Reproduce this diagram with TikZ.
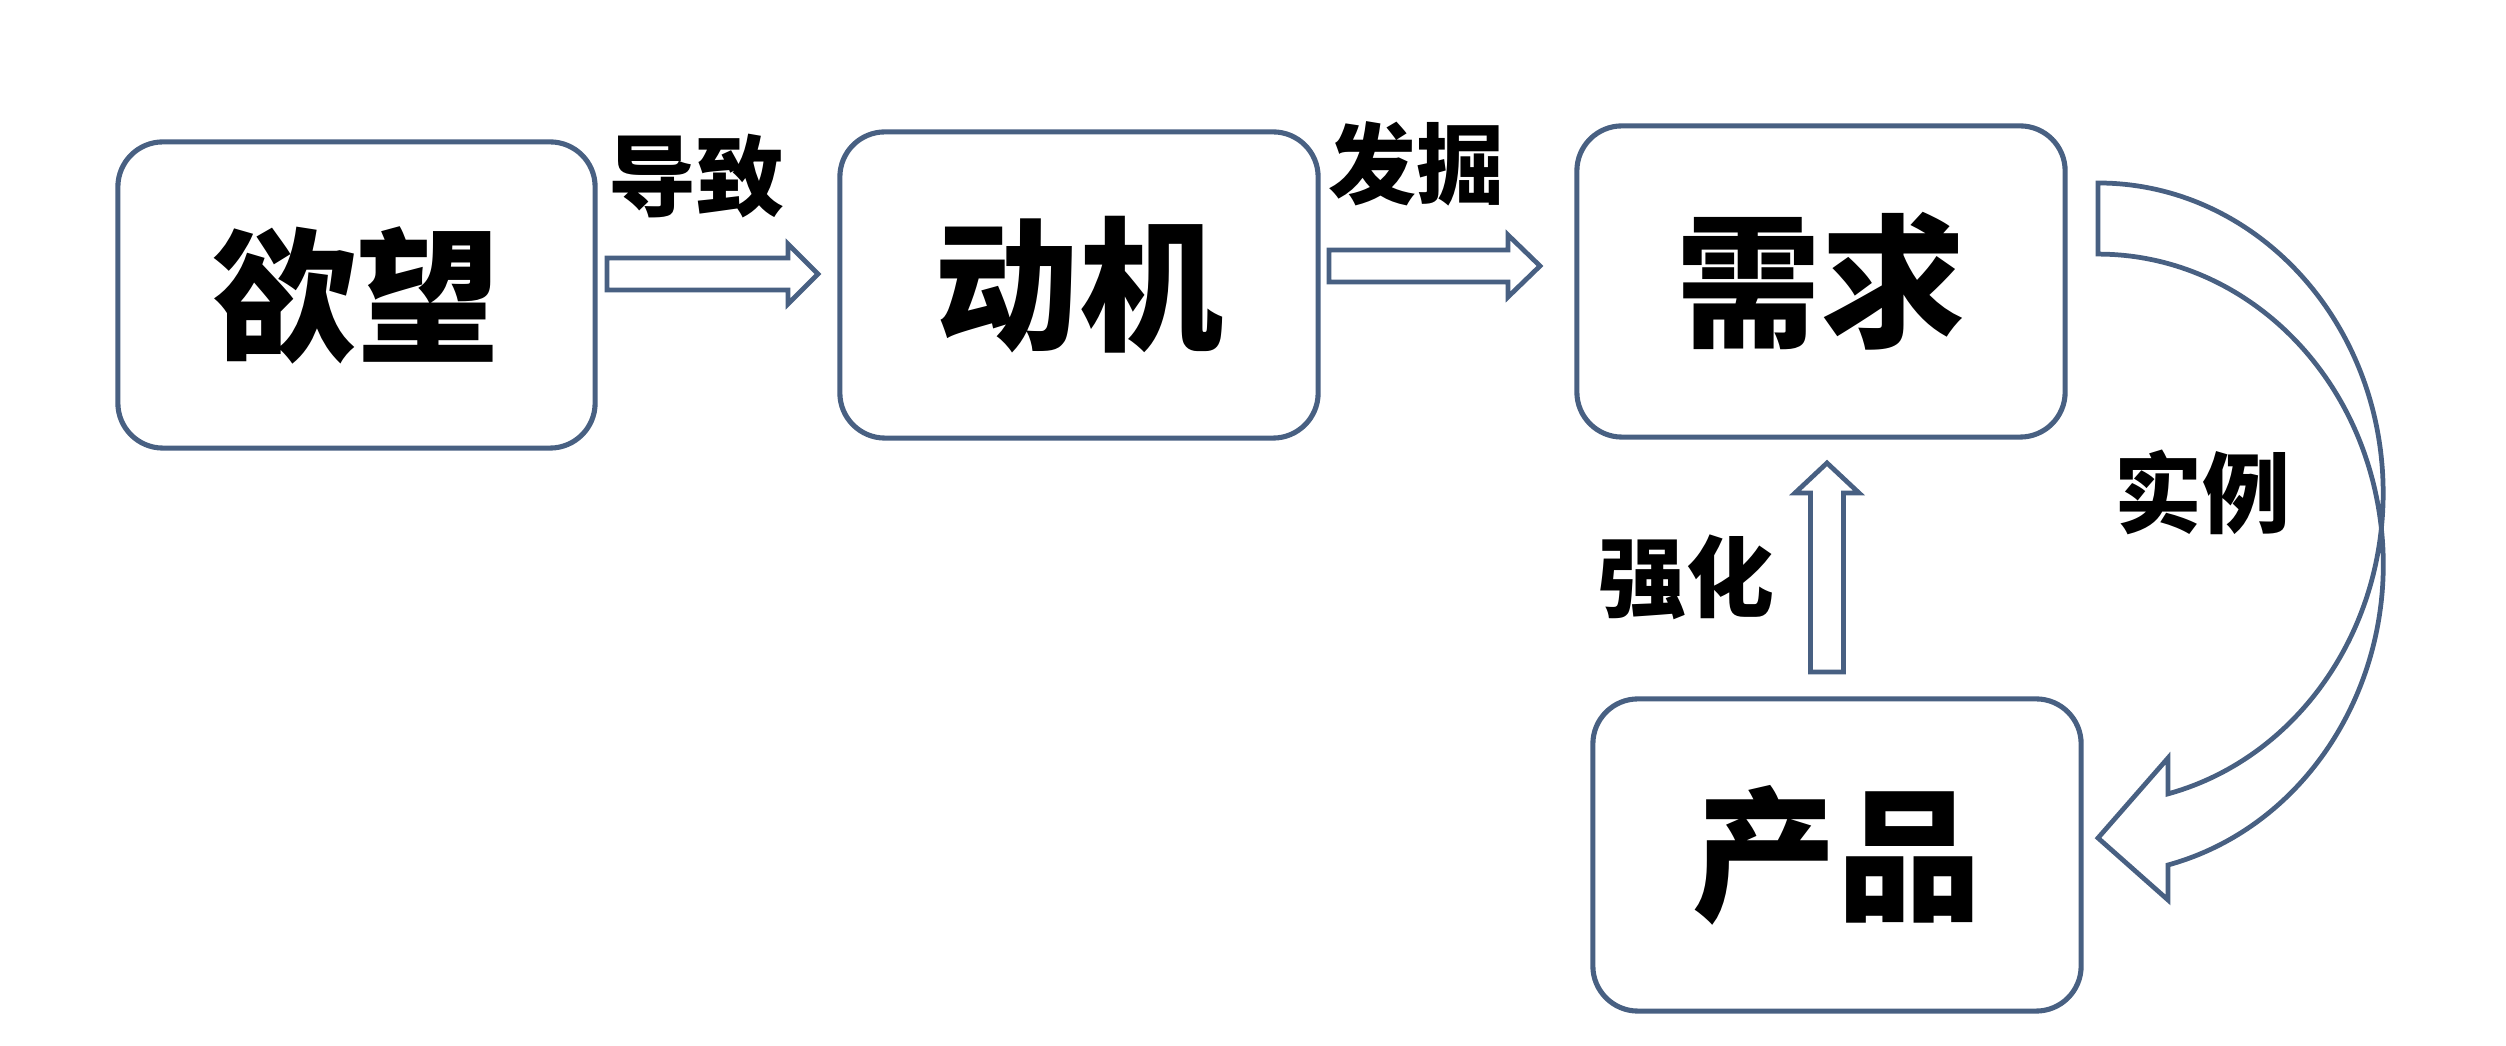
\documentclass[tikz,border=0pt]{standalone}
\usepackage{fontspec}
\newfontfamily\cjk{Noto Sans CJK SC}
\usetikzlibrary{calc}
\definecolor{edge}{RGB}{72,96,130}
\tikzset{
  box/.style={draw=edge, line width=1.45pt, rounded corners=0.45cm, fill=white,
              minimum width=4.8cm, minimum height=3.08cm, inner sep=0pt,
              font=\cjk\bfseries\fontsize{41pt}{41pt}\selectfont},
  tag/.style={inner sep=0pt, font=\cjk\bfseries\fontsize{25pt}{25pt}\selectfont},
  blockarrow/.style={draw=edge, line width=1.35pt, fill=white, line join=miter}
}
\begin{document}
\begin{tikzpicture}[x=0.01cm, y=0.01cm]
\useasboundingbox (0,0) rectangle (2506,1046);

% the four stages
\node[box, minimum width=4.77cm, minimum height=3.06cm] (want)    at (356.5,751) {欲望};
\node[box, minimum width=4.78cm, minimum height=3.06cm] (motive)  at (1079,761)  {动机};
\node[box, minimum width=4.88cm, minimum height=3.11cm] (need)    at (1821,764.5) {需求};
\node[box, minimum width=4.88cm, minimum height=3.12cm] (product) at (1837,191)  {产品};

% end points of the block arrows
\coordinate (a1s) at (607,772);
\coordinate (a1t) at (818,772);
\coordinate (a2s) at (1329,780);
\coordinate (a2t) at (1540,780);
\coordinate (a3s) at (1827,374);
\coordinate (a3t) at (1827,583);
\coordinate (ctail) at (2098,863);

% 欲望 -> 动机
\draw[blockarrow] ($(a1s)+(0,16)$) -- ($(a1t)+(-30,16)$) -- ($(a1t)+(-30,30)$) -- (a1t)
  -- ($(a1t)+(-30,-30)$) -- ($(a1t)+(-30,-16)$) -- ($(a1s)+(0,-16)$) -- cycle;
% 动机 -> 需求
\draw[blockarrow] ($(a2s)+(0,16)$) -- ($(a2t)+(-32,16)$) -- ($(a2t)+(-32,31)$) -- (a2t)
  -- ($(a2t)+(-32,-31)$) -- ($(a2t)+(-32,-16)$) -- ($(a2s)+(0,-16)$) -- cycle;
% 产品 -> 需求
\draw[blockarrow] ($(a3s)+(-16.5,0)$) -- ($(a3t)+(-16.5,-30)$) -- ($(a3t)+(-32,-30)$) -- (a3t)
  -- ($(a3t)+(32,-30)$) -- ($(a3t)+(16.5,-30)$) -- ($(a3s)+(16.5,0)$) -- cycle;
% 需求 -> 产品, curved band
\draw[blockarrow] (ctail)
  arc[start angle=90, end angle=-75.8, x radius=2.85cm, y radius=3.10cm]
  -- (2168,288) -- (2098,208) -- (2168,146) -- (2168,181)
  arc[start angle=-75.8, end angle=90, x radius=2.85cm, y radius=3.10cm] -- cycle;

% labels
\node[tag] (l1) at (696,870)  {导致};
\node[tag] (l2) at (1416,882) {发掘};
\node[tag] (l3) at (2202,554) {实例};
\node[tag] (l4) at (1686,469) {强化};
\end{tikzpicture}
\end{document}
